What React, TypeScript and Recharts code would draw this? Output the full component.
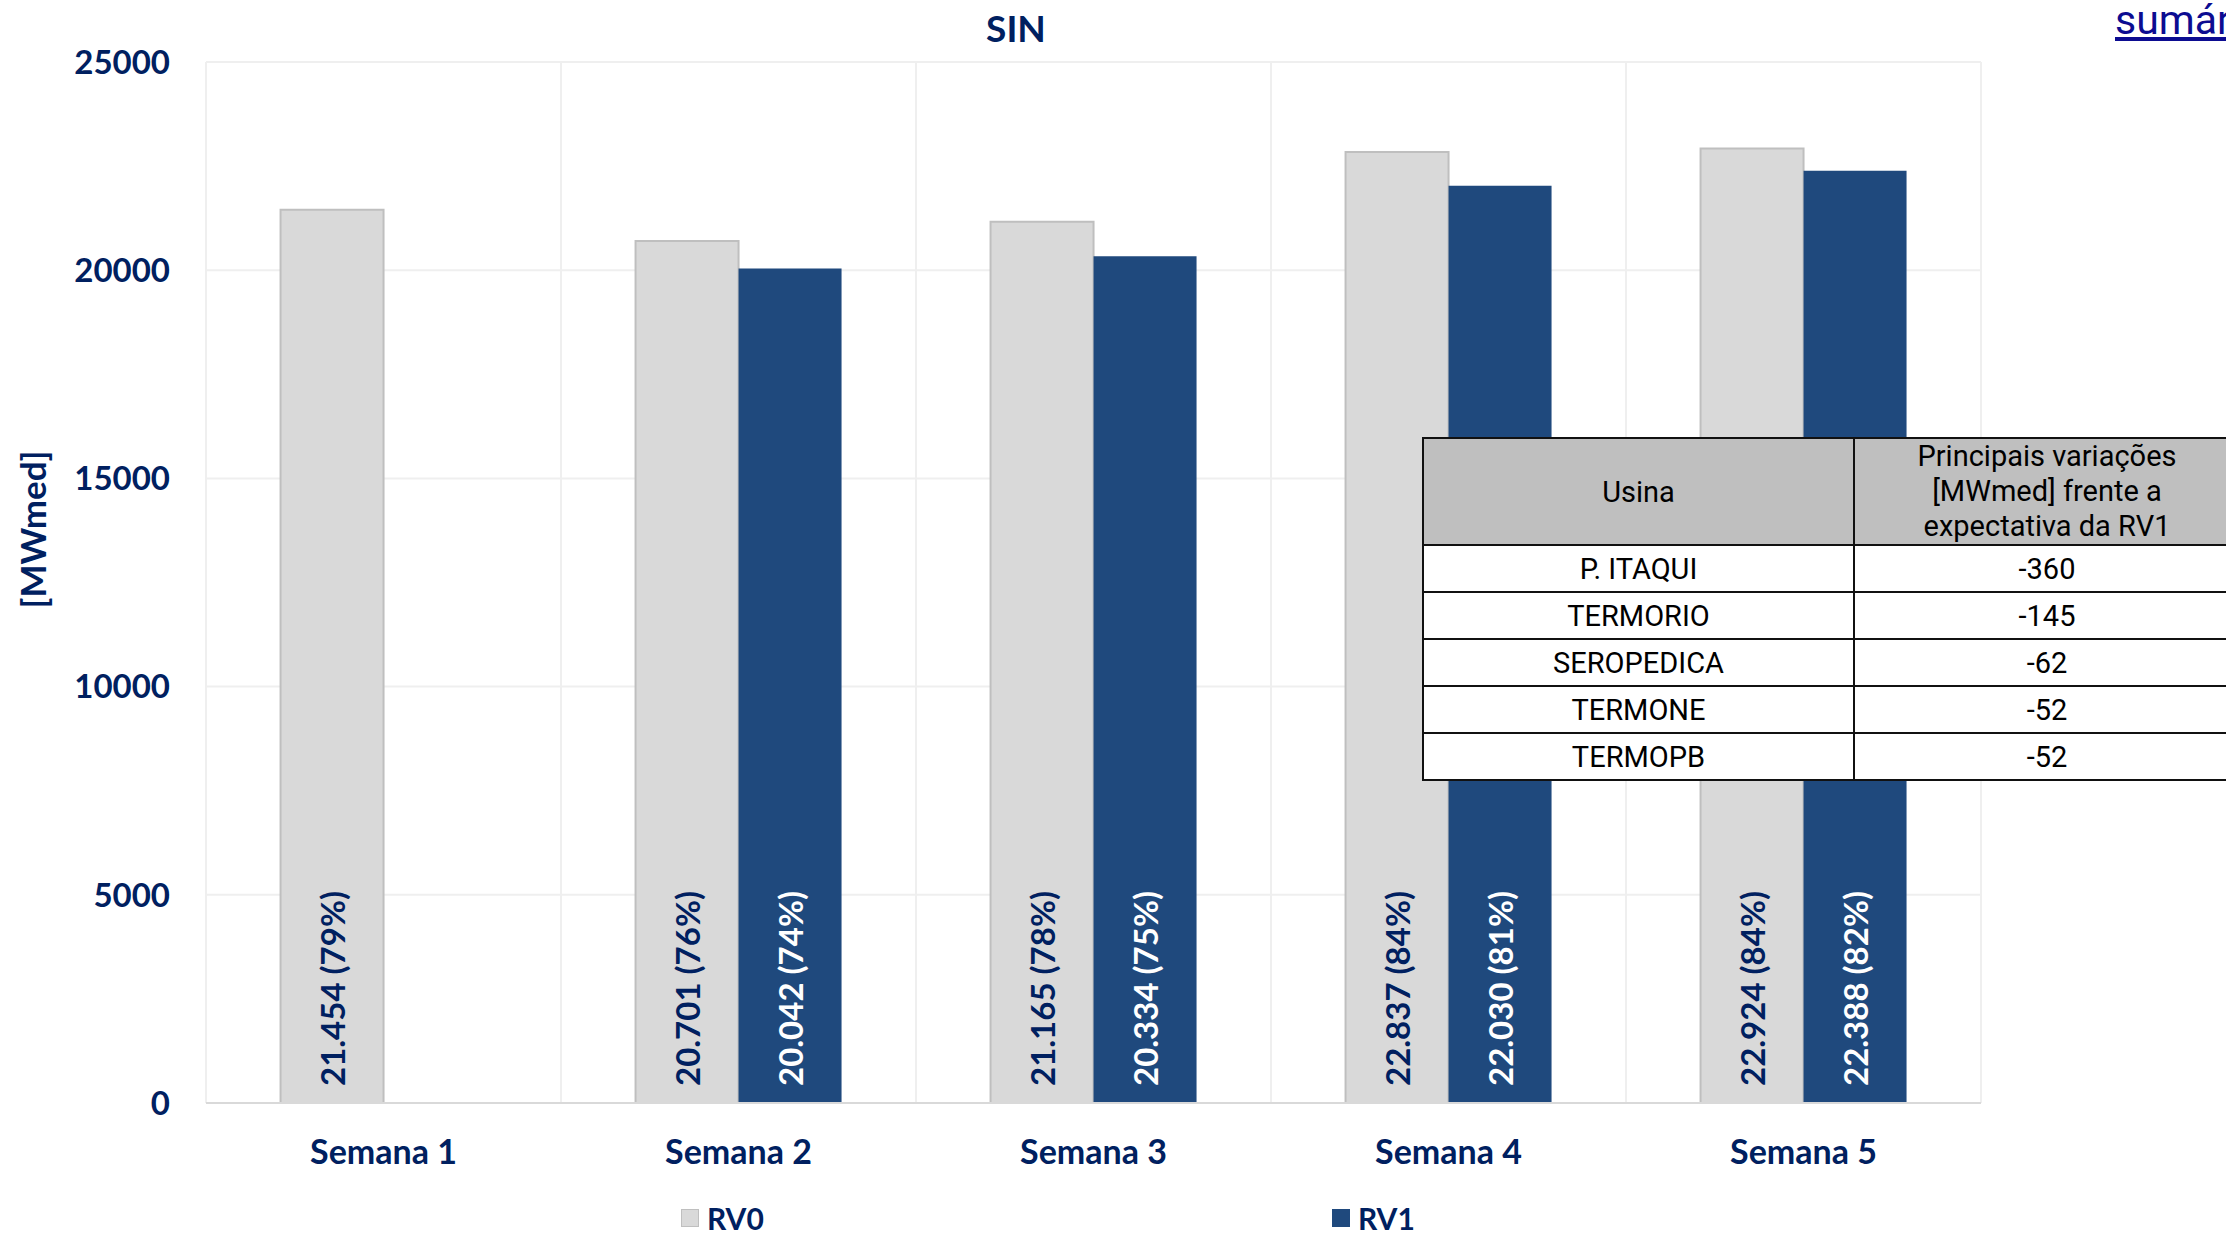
import { BarChart, Bar, XAxis, YAxis, CartesianGrid, Legend, LabelList, Label } from "recharts";

const semanas = ["Semana 1", "Semana 2", "Semana 3", "Semana 4", "Semana 5"];
const rv0 = [21454, 20701, 21165, 22837, 22924];
const rv0Pct = [79, 76, 78, 84, 84];
const rv1 = [null, 20042, 20334, 22030, 22388];
const rv1Pct = [null, 74, 75, 81, 82];
const yTicks = [0, 5000, 10000, 15000, 20000, 25000];

const usinas = ["P. ITAQUI", "TERMORIO", "SEROPEDICA", "TERMONE", "TERMOPB"];
const variacoes = [-360, -145, -62, -52, -52];

const NAVY = "#002060";
const FONT = "Lato, 'Open Sans', sans-serif";

const fmt = (v: number) => String(v).replace(/\B(?=(\d{3})+(?!\d))/g, ".");
const labelText = (v: number | null, p: number | null) => (v == null || p == null ? null : `${fmt(v)} (${p}%)`);

const data = semanas.map((s, i) => ({
  semana: s,
  rv0: rv0[i],
  rv0Label: labelText(rv0[i], rv0Pct[i]),
  rv1: rv1[i],
  rv1Label: labelText(rv1[i], rv1Pct[i]),
}));

const makeLabel = (color: string) => (props: any) => {
  const { x, y, width, height, value } = props;
  if (value == null || value === "") return null;
  const cx = Number(x) + Number(width) / 2;
  const by = Number(y) + Number(height) - 17;
  return (
    <text
      x={cx}
      y={by}
      transform={`rotate(-90 ${cx} ${by})`}
      textAnchor="start"
      dominantBaseline="central"
      fill={color}
      fontFamily={FONT}
      fontWeight={700}
      fontSize={33}
    >
      {value}
    </text>
  );
};

const YTitle = (props: any) => {
  const vb = props.viewBox || { x: 0, y: 62, width: 206, height: 1041 };
  const cx = 32;
  const cy = vb.y + vb.height / 2 - 53;
  return (
    <text
      x={cx}
      y={cy}
      transform={`rotate(-90 ${cx} ${cy})`}
      textAnchor="middle"
      dominantBaseline="central"
      fill={NAVY}
      fontFamily={FONT}
      fontWeight={700}
      fontSize={35}
    >
      [MWmed]
    </text>
  );
};

const LegendBox = () => (
  <div style={{ height: 74, position: "relative", fontFamily: FONT }}>
    <div style={{ position: "absolute", top: 41, left: 681, height: 28, display: "flex", alignItems: "center" }}>
      <span style={{ width: 16, height: 16, background: "#d9d9d9", border: "1px solid #bfbfbf", marginRight: 8 }} />
      <span style={{ color: NAVY, fontWeight: 700, fontSize: 30, lineHeight: "28px" }}>RV0</span>
    </div>
    <div style={{ position: "absolute", top: 41, left: 1332, height: 28, display: "flex", alignItems: "center" }}>
      <span style={{ width: 18, height: 18, background: "#1f497d", marginRight: 8 }} />
      <span style={{ color: NAVY, fontWeight: 700, fontSize: 30, lineHeight: "28px" }}>RV1</span>
    </div>
  </div>
);

export default function App() {
  return (
    <div
      style={{
        position: "absolute",
        left: 0,
        top: 0,
        width: 2226,
        height: 1237,
        overflow: "hidden",
        background: "#fff",
      }}
    >
      <BarChart
        width={2226}
        height={1237}
        data={data}
        margin={{ top: 62, right: 245, bottom: 0, left: 0 }}
        barCategoryGap="21%"
        barGap={0}
      >
        <CartesianGrid
          stroke="#efefef"
          strokeWidth={2}
          verticalCoordinatesGenerator={({ offset }: any) =>
            semanas.map((_, k) => offset.left + (offset.width * k) / semanas.length).concat(offset.left + offset.width)
          }
        />
        <XAxis
          dataKey="semana"
          axisLine={{ stroke: "#d9d9d9", strokeWidth: 2 }}
          tickLine={false}
          tickSize={0}
          tickMargin={37}
          height={60}
          tick={{ fill: NAVY, fontSize: 34, fontWeight: 700, fontFamily: FONT }}
        />
        <YAxis
          width={206}
          domain={[0, 25000]}
          ticks={yTicks}
          axisLine={false}
          tickLine={false}
          tickSize={0}
          tickMargin={36}
          tick={{ fill: NAVY, fontSize: 33, fontWeight: 700, fontFamily: FONT }}
        >
          <Label content={<YTitle />} />
        </YAxis>
        <Legend verticalAlign="bottom" wrapperStyle={{ left: 0, width: 2226 }} content={<LegendBox />} />
        <Bar dataKey="rv0" name="RV0" fill="#d9d9d9" stroke="#bfbfbf" strokeWidth={2} isAnimationActive={false}>
          <LabelList dataKey="rv0Label" content={makeLabel(NAVY)} />
        </Bar>
        <Bar dataKey="rv1" name="RV1" fill="#1f497d" isAnimationActive={false}>
          <LabelList dataKey="rv1Label" content={makeLabel("#ffffff")} />
        </Bar>
      </BarChart>

      <div
        style={{
          position: "absolute",
          left: 916,
          top: 9,
          width: 200,
          textAlign: "center",
          fontFamily: FONT,
          fontWeight: 700,
          fontSize: 37,
          lineHeight: "37px",
          color: NAVY,
        }}
      >
        SIN
      </div>

      <a
        href="#"
        style={{
          position: "absolute",
          left: 2115,
          top: 0,
          fontFamily: "Roboto, sans-serif",
          fontSize: 41,
          lineHeight: "41px",
          color: "#0c0c91",
          textDecoration: "underline",
          whiteSpace: "nowrap",
        }}
      >
        sumário
      </a>

      <table
        style={{
          position: "absolute",
          left: 1422,
          top: 437,
          width: 817,
          borderCollapse: "collapse",
          fontFamily: "Roboto, sans-serif",
          fontSize: 29,
          color: "#000",
          background: "#fff",
          tableLayout: "fixed",
        }}
      >
        <colgroup>
          <col style={{ width: 431 }} />
          <col style={{ width: 386 }} />
        </colgroup>
        <thead>
          <tr style={{ height: 107, background: "#bfbfbf" }}>
            <th style={{ border: "2px solid #111", fontWeight: 400, padding: 0 }}>Usina</th>
            <th style={{ border: "2px solid #111", fontWeight: 400, padding: 0, lineHeight: "35px" }}>
              Principais variações
              <br />
              [MWmed] frente a
              <br />
              expectativa da RV1
            </th>
          </tr>
        </thead>
        <tbody>
          {usinas.map((u, i) => (
            <tr key={u} style={{ height: 47 }}>
              <td style={{ border: "2px solid #111", textAlign: "center", padding: 0 }}>{u}</td>
              <td style={{ border: "2px solid #111", textAlign: "center", padding: 0 }}>{variacoes[i]}</td>
            </tr>
          ))}
        </tbody>
      </table>
    </div>
  );
}
